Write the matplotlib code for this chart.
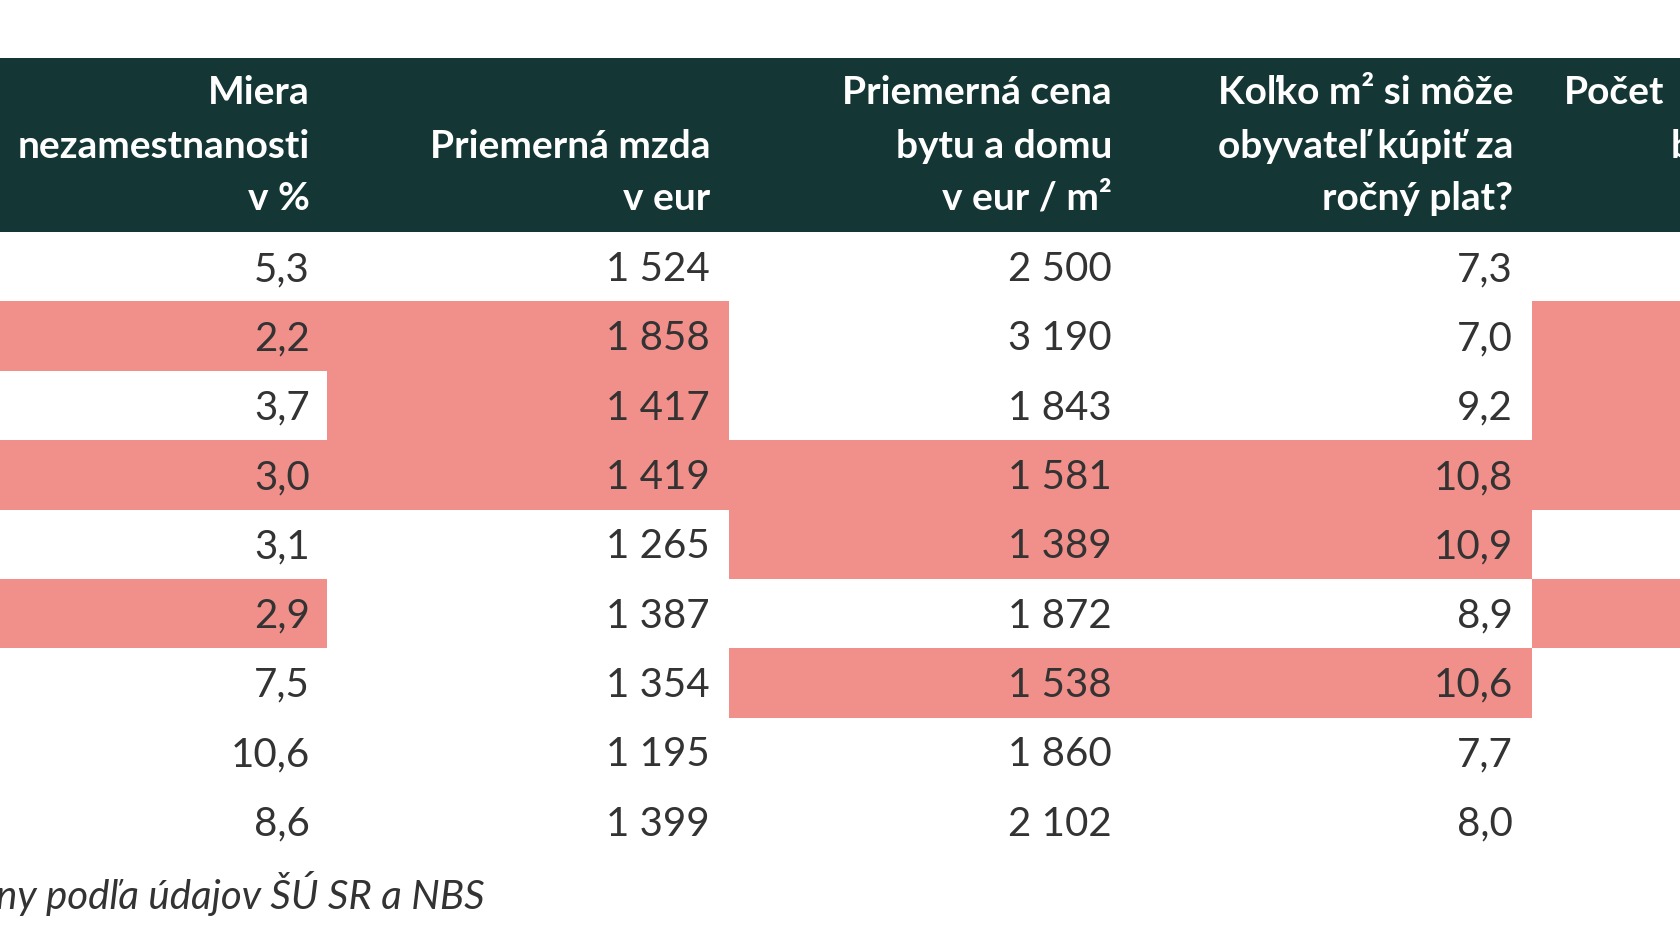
import matplotlib
matplotlib.use("Agg")
import matplotlib.pyplot as plt
from matplotlib.patches import Rectangle

# ---- data ----
unemployment = ["5,3", "2,2", "3,7", "3,0", "3,1", "2,9", "7,5", "10,6", "8,6"]
wage = ["1 524", "1 858", "1 417", "1 419", "1 265", "1 387", "1 354", "1 195", "1 399"]
price = ["2 500", "3 190", "1 843", "1 581", "1 389", "1 872", "1 538", "1 860", "2 102"]
m2_per_salary = ["7,3", "7,0", "9,2", "10,8", "10,9", "8,9", "10,6", "7,7", "8,0"]
headers = [
    ["Miera", "nezamestnanosti", "v %"],
    ["", "Priemerná mzda", "v eur"],
    ["Priemerná cena", "bytu a domu", "v eur / m²"],
    ["Koľko m² si môže", "obyvateľ kúpiť za", "ročný plat?"],
]
# highlight flags per row for [col1, col2, col3, col4, col5]
hl_unemp = [0, 1, 0, 1, 0, 1, 0, 0, 0]
hl_wage = [0, 1, 1, 1, 0, 0, 0, 0, 0]
hl_price = [0, 0, 0, 1, 1, 0, 1, 0, 0]
hl_m2 = [0, 0, 0, 1, 1, 0, 1, 0, 0]
hl_col5 = [0, 1, 1, 1, 0, 1, 0, 0, 0]
source = "ny podľa údajov ŠÚ SR a NBS"

# ---- layout ----
W, H = 1680, 945
fig = plt.figure(figsize=(16.8, 9.45), dpi=100)
ax = fig.add_axes([0, 0, 1, 1])
ax.set_xlim(0, W)
ax.set_ylim(H, 0)
ax.axis("off")

DARK = "#143735"
PINK = "#F1908B"
TXT = "#333333"
FONT = "Lato"
FS = 29

header_top, header_bot = 59, 233
row_h = 69.3
col_bounds = [(0, 327), (327, 729), (729, 1132), (1132, 1532), (1532, W)]
text_right = [310, 710, 1112, 1513]

ax.add_patch(Rectangle((0, header_top), W, header_bot - header_top, color=DARK, lw=0))

cols = [unemployment, wage, price, m2_per_salary]
flags = [hl_unemp, hl_wage, hl_price, hl_m2, hl_col5]
for i in range(len(unemployment)):
    y0 = header_bot + i * row_h
    for c, fl in enumerate(flags):
        if fl[i]:
            x0, x1 = col_bounds[c]
            ax.add_patch(Rectangle((x0, y0), x1 - x0, row_h + 0.5, color=PINK, lw=0))
    for c, col in enumerate(cols):
        ax.text(text_right[c], y0 + row_h / 2 + 2, col[i], ha="right", va="center",
                fontsize=FS, color=TXT, family=FONT)

line_y = [93, 147, 198]
for c, lines in enumerate(headers):
    for j, t in enumerate(lines):
        if t:
            ax.text(text_right[c], line_y[j], t, ha="right", va="center", fontsize=FS - 1,
                    color="white", family=FONT, fontweight="bold")
ax.text(1564, line_y[0], "Počet", ha="left", va="center", fontsize=FS - 1,
        color="white", family=FONT, fontweight="bold")
ax.text(1671, line_y[1], "b", ha="left", va="center", fontsize=FS - 1,
        color="white", family=FONT, fontweight="bold")

ax.text(-4, 893, source, ha="left", va="center", fontsize=FS, color=TXT,
        family=FONT, style="italic")

fig.savefig("out.png", dpi=100, facecolor="white")
